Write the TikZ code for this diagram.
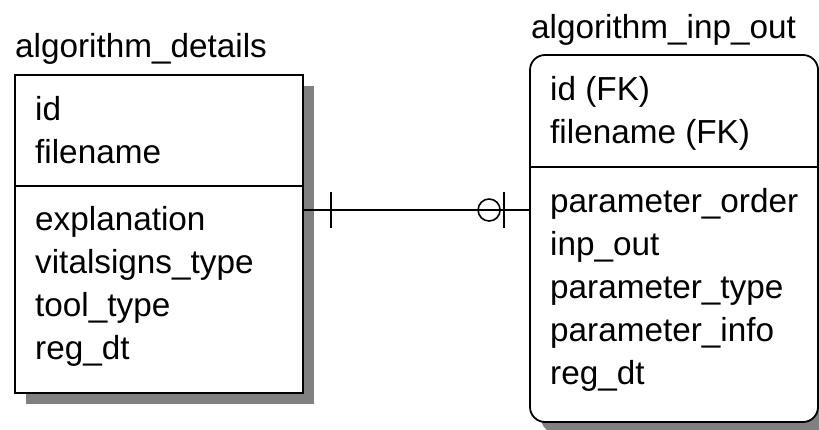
\documentclass[tikz,border=0pt]{standalone}
\usepackage{fontspec}
\setmainfont{Liberation Sans}
\usetikzlibrary{shadows}
\tikzset{
  x=1pt, y=-1pt,
  entity/.style={draw=black, line width=1.8pt, fill=white, inner sep=0pt,
    general shadow={shadow xshift=11pt, shadow yshift=-11pt, fill=black!50}},
  lbl/.style={anchor=base west, inner sep=0pt, font=\fontsize{33.3}{40}\selectfont},
  rel/.style={draw=black, line width=1.8pt},
}
\begin{document}
\begin{tikzpicture}
\useasboundingbox (0,0) rectangle (819,429);

% entity boxes
\node[entity, minimum width=288pt, minimum height=318pt] (det) at (159,234) {};
\node[entity, rounded corners=15pt, minimum width=288pt, minimum height=367pt] (io) at (674,238.5) {};

% key / non-key separators
\draw[rel] (det.west |- 0,186) -- (det.east |- 0,186);
\draw[rel] (io.west |- 0,167) -- (io.east |- 0,167);

% entity names
\node[lbl] (detname) at (15,57) {algorithm\_details};
\node[lbl] (ioname) at (531,38) {algorithm\_inp\_out};

% algorithm_details attributes
\node[lbl] (d1) at (35,120) {id};
\node[lbl] (d2) at (35,163) {filename};
\node[lbl] (d3) at (35,230) {explanation};
\node[lbl] (d4) at (35,273) {vitalsigns\_type};
\node[lbl] (d5) at (35,316) {tool\_type};
\node[lbl] (d6) at (35,359) {reg\_dt};

% algorithm_inp_out attributes
\node[lbl] (i1) at (550,100) {id (FK)};
\node[lbl] (i2) at (550,143) {filename (FK)};
\node[lbl] (i3) at (550,212) {parameter\_order};
\node[lbl] (i4) at (550,255) {inp\_out};
\node[lbl] (i5) at (550,298) {parameter\_type};
\node[lbl] (i6) at (550,341) {parameter\_info};
\node[lbl] (i7) at (550,384) {reg\_dt};

% one-to-zero-or-one relationship
\coordinate (lnk) at (0,210);
\draw[rel] (det.east |- lnk) -- (io.west |- lnk);
\draw[rel] ([xshift=27pt]det.east |- lnk) ++(0,-18) -- ++(0,36);
\draw[rel] ([xshift=-25pt]io.west |- lnk) ++(0,-18) -- ++(0,36);
\draw[rel, line width=1.6pt] ([xshift=-40pt]io.west |- lnk) circle[radius=11pt];
\end{tikzpicture}
\end{document}
